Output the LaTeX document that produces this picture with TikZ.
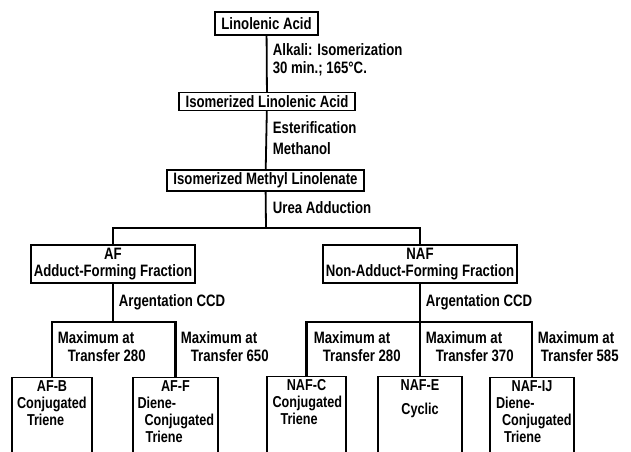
\documentclass[tikz,border=0pt]{standalone}
\usepackage{fontspec}
\setmainfont{Liberation Sans}[FakeStretch=0.8]
\usetikzlibrary{positioning}

\begin{document}
\begin{tikzpicture}[x=1pt, y=-1pt, line width=1.8pt,
  font=\fontsize{16.5}{16.8}\selectfont\bfseries,
  stepbox/.style={draw, line width=1.3pt, inner sep=0pt, minimum height=20pt},
  fracbox/.style={draw, line width=1.1pt, inner sep=0pt, minimum height=38pt, align=center},
  prodbox/.style={draw, line width=1.2pt, inner sep=0pt, minimum height=110pt, minimum width=84pt, anchor=north},
  toplbl/.style={anchor=north, inner sep=0pt, yshift=-3pt, text width=78pt, align=left,
    font=\fontsize{15.8}{16.8}\selectfont\bfseries},
  note/.style={anchor=west, inner sep=0pt},
  bracket/.style={line width=2.2pt}]
  % Frame of the page
  \useasboundingbox (0,0) rectangle (631,451);
  \clip (0,0) rectangle (631,451);
  % Preparation steps
  \node[stepbox, minimum width=103pt, minimum height=23pt] at (266.5, 23.5) (lin) {Linolenic Acid};
  \node[stepbox, minimum width=176pt, minimum height=18pt] at (267, 101.5) (isolin) {Isomerized Linolenic Acid};
  \node[stepbox, minimum width=197pt, minimum height=21pt] at (265.5, 180.5) (methyl) {Isomerized Methyl Linolenate};
  \node[note] at (272, 50) (alkali) {Alkali: Isomerization};
  \node[note] at (272, 69) (time) {30 min.; 165°C.};
  \node[note] at (272, 128) (ester) {Esterification};
  \node[note] at (272, 149) (meth) {Methanol};
  \node[note] at (272, 208) (urea) {Urea Adduction};
  \draw (lin) -- (isolin);
  \draw (isolin) -- (methyl);
  % Adduct fractions
  \node[fracbox, minimum width=164pt] at (113, 264) (af) {AF\\Adduct-Forming Fraction};
  \node[fracbox, minimum width=194pt] at (420, 264) (naf) {NAF\\Non-Adduct-Forming Fraction};
  \coordinate (split) at (266, 228);
  \draw (methyl) -- (split);
  \draw[line width=2pt] (af.north) |- (split) -| (naf.north);
  \node[note] at (118, 302) (afccd) {Argentation CCD};
  \node[note] at (425, 302) (nafccd) {Argentation CCD};
  % CCD products
  \node[prodbox, minimum width=80pt] at (52, 377) (afb) {};
  \node[prodbox, minimum width=85pt] at (175.5, 377) (aff) {};
  \node[prodbox, minimum width=79pt] at (306.5, 376) (nafc) {};
  \node[prodbox, minimum width=84pt] at (420, 376) (nafe) {};
  \node[prodbox, minimum width=84pt] at (532, 377) (nafij) {};
  \node[toplbl] at (afb.north) (afbtxt) {\makebox[\linewidth]{AF-B}\\\hspace*{4pt}\mbox{Conjugated}\\\hspace*{14pt}\mbox{Triene}};
  \node[toplbl] at (aff.north) (afftxt) {\makebox[\linewidth]{AF-F}\\\hspace*{1pt}\mbox{Diene-}\\\hspace*{8pt}\mbox{Conjugated}\\\hspace*{9pt}\mbox{Triene}};
  \node[toplbl] at (nafc.north) (nafctxt) {\makebox[\linewidth]{NAF-C}\\\hspace*{5pt}\mbox{Conjugated}\\\hspace*{13pt}\mbox{Triene}};
  \node[toplbl] at (nafe.north) (nafetxt) {\makebox[\linewidth]{NAF-E}\\[7pt]\makebox[\linewidth]{Cyclic}};
  \node[toplbl] at (nafij.north) (nafijtxt) {\makebox[\linewidth]{NAF-IJ}\\\hspace*{3pt}\mbox{Diene-}\\\hspace*{9pt}\mbox{Conjugated}\\\hspace*{11pt}\mbox{Triene}};
  \coordinate (afsplit) at (113, 322);
  \coordinate (nafsplit) at (420, 322);
  \draw (af) -- (afsplit);
  \draw[bracket] (afb.north) |- (afsplit) -| (aff.north);
  \draw[bracket] (naf) -- (nafe);
  \draw[bracket] (nafc.north) |- (nafsplit) -| (nafij.north);
  % Transfer maxima
  \node[note] at (57, 338) (afmax1) {Maximum at};
  \node[note] at (67, 356) (aftr1) {Transfer 280};
  \node[note] at (180, 338) (afmax2) {Maximum at};
  \node[note] at (190, 356) (aftr2) {Transfer 650};
  \node[note] at (313, 338) (nafmax1) {Maximum at};
  \node[note] at (322, 356) (naftr1) {Transfer 280};
  \node[note] at (425, 338) (nafmax2) {Maximum at};
  \node[note] at (435, 356) (naftr2) {Transfer 370};
  \node[note] at (537, 338) (nafmax3) {Maximum at};
  \node[note] at (540, 356) (naftr3) {Transfer 585};
\end{tikzpicture}
\end{document}
